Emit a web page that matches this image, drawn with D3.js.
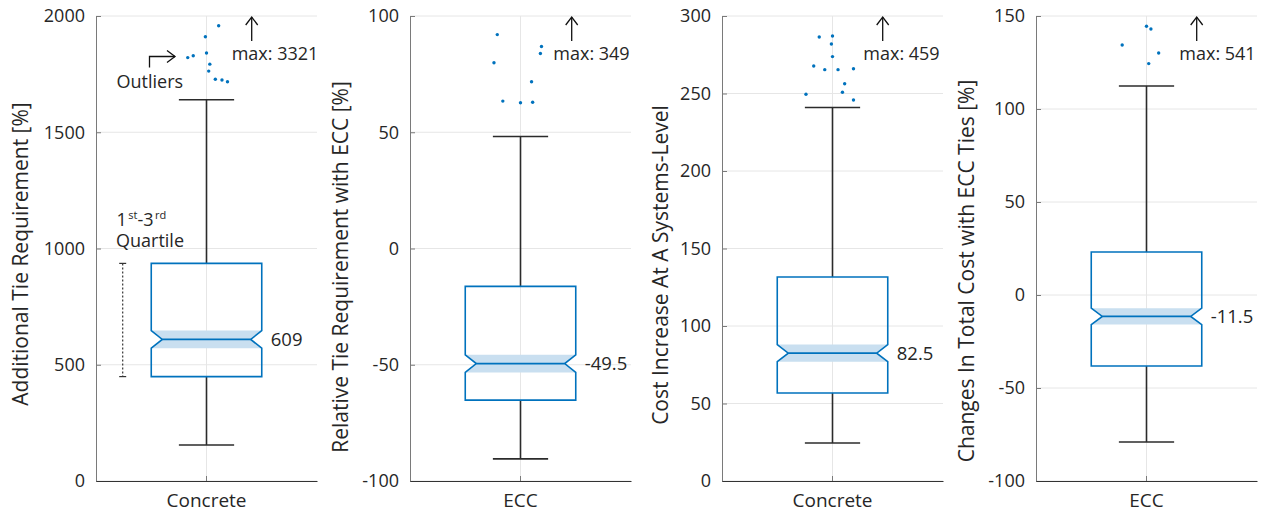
<!DOCTYPE html>
<html>
<head>
<meta charset="utf-8">
<script src="https://cdn.jsdelivr.net/npm/d3@7"></script>
<style>
  html, body { margin: 0; padding: 0; background: #ffffff; }
  svg { display: block; font-family: "Open Sans", "Noto Sans", sans-serif; }
</style>
</head>
<body>
<svg id="chart" width="1265" height="516"></svg>
<script>
// ---------- data ----------
const categories = ["Concrete", "ECC", "Concrete", "ECC"];
const yTitles = [
  "Additional Tie Requirement [%]",
  "Relative Tie Requirement with ECC [%]",
  "Cost Increase At A Systems-Level",
  "Changes In Total Cost with ECC Ties [%]"
];
const yDomains = [[0, 2000], [-100, 100], [0, 300], [-100, 150]];
const yTickValues = [
  [0, 500, 1000, 1500, 2000],
  [-100, -50, 0, 50, 100],
  [0, 50, 100, 150, 200, 250, 300],
  [-100, -50, 0, 50, 100, 150]
];
const q1Values     = [449, -65.2, 56.8, -38.2];
const q3Values     = [936, -16.3, 131.6, 23.1];
const medianValues = [609, -49.5, 82.5, -11.5];
const medianLabels = ["609", "-49.5", "82.5", "-11.5"];
const notchLow     = [571, -53.3, 77, -15.9];
const notchHigh    = [647, -45.7, 88, -7.1];
const whiskerLow   = [155, -90.5, 24.5, -79];
const whiskerHigh  = [1640, 48.2, 241, 112.4];
const maxValues    = [3321, 349, 459, 541];

const outliers1 = [1958, 1911, 1821, 1829, 1841, 1793, 1763, 1728, 1725, 1717];
const jitter1   = [0.11, -0.01, -0.17, -0.12, 0.0, 0.03, 0.02, 0.08, 0.14, 0.19];
const outliers2 = [92, 86.9, 83.9, 79.9, 71.7, 63.4, 62.7, 62.9];
const jitter2   = [-0.21, 0.19, 0.18, -0.24, 0.10, -0.16, 0.0, 0.11];
const outliers3 = [286.5, 287.1, 281.9, 273.8, 267.7, 265.4, 265.4, 266, 256.3, 250.8, 249.5, 245.8];
const jitter3   = [-0.12, 0.0, -0.01, 0.0, -0.17, -0.07, 0.05, 0.19, 0.11, 0.09, -0.24, 0.19];
const outliers4 = [144.5, 143, 134.4, 130.1, 124.4];
const jitter4   = [0.0, 0.04, -0.22, 0.11, 0.02];
const outlierSets = [outliers1, outliers2, outliers3, outliers4];
const jitterSets  = [jitter1, jitter2, jitter3, jitter4];

// ---------- layout ----------
const panelLeft = [96, 410, 722, 1036];
const panelWidth = 221;
const plotTop = 16, plotBottom = 481;
const titleOffsetX = [-68, -62.3, -54, -62.4];
const titleCenterY = [254, 267, 265, 271];
const arrowOffset = [45.2, 51.2, 50.2, 50.2];
const maxTextOffset = [25.2, 32.8, 30.8, 32.8];

const blue = "#0072BD";
const notchFill = "#c9dff0";
const darkStroke = "#2b2b2b";
const textColor = "#262626";
const gridColor = "#e6e6e6";
const fontSize = 18;
const titleFontSize = 21;
const xTickFontSize = 19;

const svg = d3.select("#chart");

categories.forEach((cat, i) => {
  const L = panelLeft[i], R = L + panelWidth;
  const y = d3.scaleLinear().domain(yDomains[i]).range([plotBottom, plotTop]);
  const x = d3.scaleBand().domain([cat]).range([L, R]).paddingInner(0).paddingOuter(0.5);
  const bw = x.bandwidth();
  const bx0 = x(cat), bx1 = bx0 + bw, cx = bx0 + bw / 2;
  const g = svg.append("g");

  // grid
  g.selectAll("line.hgrid").data(yTickValues[i]).join("line")
    .attr("x1", L).attr("x2", R)
    .attr("y1", d => y(d)).attr("y2", d => y(d))
    .attr("stroke", gridColor).attr("stroke-width", 1);
  g.append("line").attr("x1", cx).attr("x2", cx).attr("y1", plotTop).attr("y2", plotBottom)
    .attr("stroke", gridColor).attr("stroke-width", 1);

  // y axis
  const yAxis = d3.axisLeft(y).tickValues(yTickValues[i]).tickSize(-5).tickSizeOuter(0).tickPadding(11)
    .tickFormat(d => String(d));
  const ya = g.append("g").attr("transform", `translate(${L},0)`).call(yAxis);
  ya.select(".domain").attr("stroke", "#7a7a7a").attr("stroke-width", 1);
  ya.selectAll(".tick line").attr("stroke", "#7a7a7a");
  ya.selectAll(".tick text").attr("font-size", fontSize).attr("fill", textColor)
    .attr("font-family", "Open Sans, Noto Sans, sans-serif");

  // x axis
  const xAxis = d3.axisBottom(x).tickSize(-5).tickSizeOuter(0).tickPadding(13);
  const xa = g.append("g").attr("transform", `translate(0,${plotBottom})`).call(xAxis);
  xa.select(".domain").attr("stroke", "#333").attr("stroke-width", 1);
  xa.selectAll(".tick line").attr("stroke", "#7a7a7a");
  xa.selectAll(".tick text").attr("font-size", xTickFontSize).attr("fill", textColor)
    .attr("font-family", "Open Sans, Noto Sans, sans-serif");

  // y title
  g.append("text")
    .attr("transform", `translate(${L + titleOffsetX[i]},${titleCenterY[i]}) rotate(-90)`)
    .attr("text-anchor", "middle").attr("font-size", titleFontSize).attr("fill", textColor)
    .text(yTitles[i]);

  // whiskers
  const capHalf = bw / 4;
  const wg = g.append("g").attr("stroke", darkStroke).attr("stroke-width", 1.6);
  wg.append("line").attr("x1", cx).attr("x2", cx).attr("y1", y(q3Values[i])).attr("y2", y(whiskerHigh[i]));
  wg.append("line").attr("x1", cx).attr("x2", cx).attr("y1", y(q1Values[i])).attr("y2", y(whiskerLow[i]));
  wg.append("line").attr("x1", cx - capHalf).attr("x2", cx + capHalf).attr("y1", y(whiskerHigh[i])).attr("y2", y(whiskerHigh[i]));
  wg.append("line").attr("x1", cx - capHalf).attr("x2", cx + capHalf).attr("y1", y(whiskerLow[i])).attr("y2", y(whiskerLow[i]));

  // notched box
  const inset = bw * 0.1;
  const yq1 = y(q1Values[i]), yq3 = y(q3Values[i]), ym = y(medianValues[i]);
  const ylo = y(notchLow[i]), yhi = y(notchHigh[i]);
  g.append("path")
    .attr("d", `M${bx0},${yhi} L${bx1},${yhi} L${bx1 - inset},${ym} L${bx1},${ylo} L${bx0},${ylo} L${bx0 + inset},${ym} Z`)
    .attr("fill", notchFill).attr("stroke", "none");
  g.append("path")
    .attr("d", `M${bx0},${yq3} L${bx1},${yq3} L${bx1},${yhi} L${bx1 - inset},${ym} L${bx1},${ylo} L${bx1},${yq1} L${bx0},${yq1} L${bx0},${ylo} L${bx0 + inset},${ym} L${bx0},${yhi} Z`)
    .attr("fill", "none").attr("stroke", blue).attr("stroke-width", 1.6).attr("stroke-linejoin", "miter");
  g.append("line").attr("x1", bx0 + inset).attr("x2", bx1 - inset).attr("y1", ym).attr("y2", ym)
    .attr("stroke", blue).attr("stroke-width", 1.6);

  // median label
  g.append("text").attr("x", bx1 + 9).attr("y", ym).attr("dy", "0.36em")
    .attr("font-size", 18.5).attr("fill", textColor).text(medianLabels[i]);

  // outliers
  g.selectAll("circle.out").data(outlierSets[i]).join("circle")
    .attr("cx", (d, k) => cx + jitterSets[i][k] * bw)
    .attr("cy", d => y(d)).attr("r", 1.7).attr("fill", blue);

  // max arrow + text
  const ax = cx + arrowOffset[i];
  const ag = g.append("g").attr("stroke", "#111").attr("stroke-width", 1.3).attr("fill", "none");
  ag.append("line").attr("x1", ax).attr("x2", ax).attr("y1", plotTop + 25).attr("y2", y(yDomains[i][1]) + 1);
  ag.append("path").attr("d", `M${ax - 6},${plotTop + 9} L${ax},${plotTop + 1} L${ax + 6},${plotTop + 9}`);
  g.append("text").attr("x", cx + maxTextOffset[i]).attr("y", 60)
    .attr("font-size", fontSize).attr("fill", textColor).text("max: " + maxValues[i]);

  if (i === 0) {
    // Outliers annotation
    g.append("text").attr("x", 116.5).attr("y", 88).attr("font-size", fontSize).attr("fill", textColor).text("Outliers");
    const og = g.append("g").attr("stroke", "#111").attr("stroke-width", 1.3).attr("fill", "none");
    og.append("path").attr("d", `M149.5,67.5 L149.5,56.5 L175,56.5`);
    og.append("path").attr("d", `M167,50.5 L175,56.5 L167,62.5`);

    // Quartile annotation as one two-line text
    const qt = g.append("text").attr("x", 116.5).attr("y", 226).attr("font-size", fontSize).attr("fill", textColor);
    qt.append("tspan").text("1");
    qt.append("tspan").attr("font-size", 11).attr("dx", 1.5).attr("dy", -7).text("st");
    qt.append("tspan").attr("dy", 7).text("-3");
    qt.append("tspan").attr("font-size", 11).attr("dx", 1.5).attr("dy", -7).text("rd");
    qt.append("tspan").attr("x", 116).attr("y", 247).text("Quartile");

    const bxq = 122.7;
    const dg = g.append("g").attr("stroke", "#333").attr("stroke-width", 1.2);
    dg.append("line").attr("x1", bxq).attr("x2", bxq).attr("y1", yq3).attr("y2", yq1).attr("stroke-dasharray", "2,2");
    dg.append("line").attr("x1", bxq - 3.5).attr("x2", bxq + 3.5).attr("y1", yq3).attr("y2", yq3);
    dg.append("line").attr("x1", bxq - 3.5).attr("x2", bxq + 3.5).attr("y1", yq1).attr("y2", yq1);
  }
});
</script>
</body>
</html>
